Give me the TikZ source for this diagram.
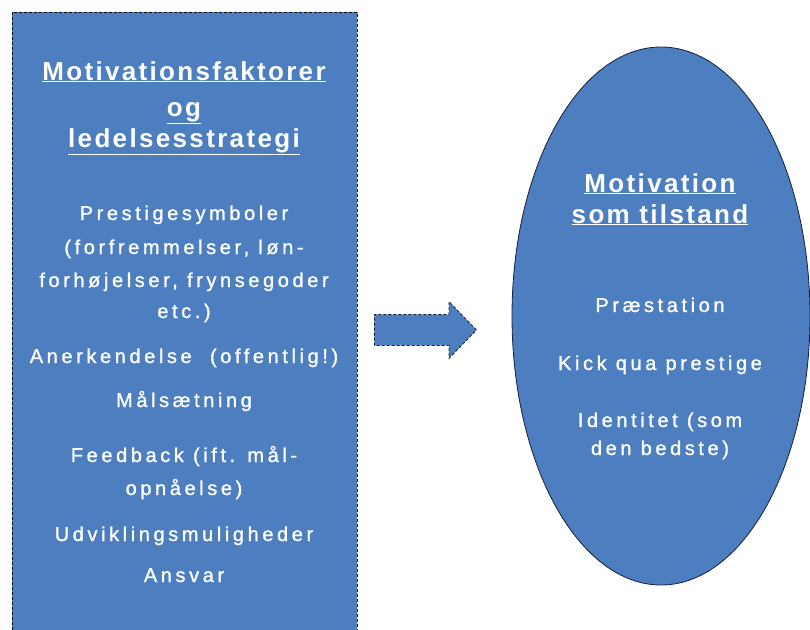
\documentclass[tikz,border=0pt]{standalone}
\usepackage{fontspec}
\setmainfont{Liberation Sans}
\newfontfamily\headfont[LetterSpace=9]{Liberation Sans}
\newfontfamily\bodyfont[LetterSpace=18,FakeBold=1.2]{Liberation Sans}
\usepackage{xcolor}
\usetikzlibrary{shapes.geometric}
\usetikzlibrary{shapes.arrows}
\definecolor{boxblue}{RGB}{76,126,192}
\definecolor{edgenavy}{RGB}{20,30,60}

\begin{document}
\begin{tikzpicture}[x=1pt,y=-1pt,
          head/.style={text=white,anchor=base,inner sep=0pt,font=\headfont\bfseries\fontsize{26}{30}\selectfont},
          body/.style={text=white,anchor=base,inner sep=0pt,font=\bodyfont\fontsize{20}{24}\selectfont}]
          \clip (0,0) rectangle (810,629);
          \node[draw=black,densely dashed,line width=0.8pt,fill=boxblue,anchor=north west,
                minimum width=345pt,minimum height=625pt,inner sep=0pt](lbox) at (12,12){};
          \node[ellipse,draw=edgenavy,line width=0.8pt,fill=boxblue,
                minimum width=298pt,minimum height=538pt,inner sep=0pt](ell) at (661,316){};
          \node[single arrow,draw=edgenavy,densely dashed,line width=0.8pt,fill=boxblue,
                minimum height=102pt,inner xsep=0pt,inner ysep=15pt,
                single arrow head extend=13pt,single arrow tip angle=92](arr) at (418,330){};
          % left box
          \node[head](h1) at (184,80){\underline{Motivationsfaktorer}};
          \node[head](h2) at (184,116){\underline{og}};
          \node[head](h3) at (184,147){\underline{ledelsesstrategi}};
          \node[body](b1) at (184,220){Prestigesymboler};
          \node[body](b2) at (184,254){(forfremmelser, løn-};
          \node[body](b3) at (184,287){forhøjelser, frynsegoder};
          \node[body](b4) at (184,318){etc.)};
          \node[body](b5) at (184,363){Anerkendelse\ \ (offentlig!)};
          \node[body](b6) at (184,407){Målsætning};
          \node[body](b7) at (184,462){Feedback (ift. mål-};
          \node[body](b8) at (184,495){opnåelse)};
          \node[body](b9) at (184,541){Udviklingsmuligheder};
          \node[body](b10) at (184,582){Ansvar};
          % ellipse
          \node[head](e1) at (660,192){\underline{Motivation}};
          \node[head](e2) at (660,223){\underline{som tilstand}};
          \node[body](e3) at (660,312){Præstation};
          \node[body](e4) at (660,370){Kick qua prestige};
          \node[body](e5) at (660,427){Identitet (som};
          \node[body](e6) at (660,455){den bedste)};
        \end{tikzpicture}
\end{document}
